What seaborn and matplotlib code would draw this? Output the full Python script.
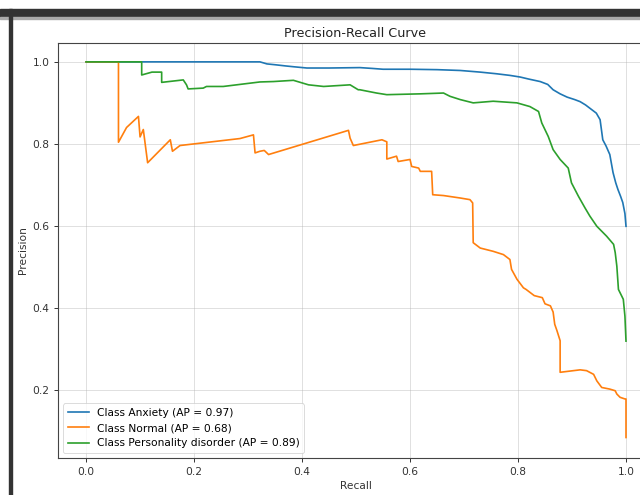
import matplotlib
matplotlib.use("Agg")
import matplotlib.pyplot as plt
import seaborn as sns
import pandas as pd
from matplotlib.patches import Rectangle

# ---- data (recall, precision vertices) ----
anxiety_recall = [0.0, 0.322, 0.335, 0.35, 0.37, 0.385, 0.409, 0.45, 0.507, 0.53, 0.55,
                  0.60, 0.65, 0.693, 0.73, 0.76, 0.785, 0.804, 0.82, 0.841, 0.855,
                  0.865, 0.878, 0.891, 0.905, 0.915, 0.925, 0.933, 0.945, 0.952,
                  0.957, 0.963, 0.970, 0.976, 0.981, 0.985, 0.990, 0.994, 0.998, 1.0]
anxiety_precision = [1.0, 1.0, 0.995, 0.993, 0.99, 0.988, 0.985, 0.985, 0.986, 0.984, 0.982,
                     0.982, 0.981, 0.979, 0.975, 0.971, 0.967, 0.963, 0.958, 0.952, 0.945,
                     0.932, 0.922, 0.914, 0.908, 0.903, 0.895, 0.887, 0.875, 0.859,
                     0.810, 0.795, 0.774, 0.730, 0.705, 0.689, 0.672, 0.657, 0.630, 0.599]

normal_recall = [0.0, 0.060, 0.060, 0.075, 0.097, 0.100, 0.106, 0.114, 0.156, 0.160,
                 0.174, 0.285, 0.310, 0.313, 0.322, 0.330, 0.338, 0.486, 0.489, 0.495,
                 0.548, 0.557, 0.557, 0.575, 0.578, 0.600, 0.603, 0.616, 0.619, 0.640,
                 0.642, 0.662, 0.693, 0.711, 0.716, 0.717, 0.730, 0.754, 0.773, 0.785,
                 0.788, 0.798, 0.810, 0.815, 0.830, 0.845, 0.850, 0.860, 0.865, 0.868,
                 0.872, 0.878, 0.878, 0.915, 0.927, 0.940, 0.946, 0.955, 0.970, 0.980,
                 0.983, 0.989, 0.998, 1.0, 1.0]
normal_precision = [1.0, 1.0, 0.804, 0.840, 0.867, 0.817, 0.835, 0.754, 0.810, 0.782,
                    0.796, 0.813, 0.822, 0.778, 0.782, 0.784, 0.774, 0.833, 0.814, 0.796,
                    0.810, 0.805, 0.763, 0.770, 0.757, 0.762, 0.745, 0.741, 0.733, 0.733,
                    0.676, 0.674, 0.668, 0.664, 0.656, 0.559, 0.546, 0.538, 0.530, 0.518,
                    0.494, 0.470, 0.449, 0.445, 0.430, 0.425, 0.410, 0.405, 0.390, 0.360,
                    0.345, 0.320, 0.243, 0.249, 0.247, 0.238, 0.222, 0.206, 0.202, 0.198,
                    0.190, 0.182, 0.178, 0.178, 0.084]

personality_recall = [0.0, 0.103, 0.103, 0.122, 0.140, 0.140, 0.180, 0.186, 0.189, 0.217,
                      0.223, 0.254, 0.322, 0.347, 0.384, 0.412, 0.440, 0.489, 0.504,
                      0.507, 0.538, 0.557, 0.619, 0.662, 0.674, 0.693, 0.717, 0.754,
                      0.798, 0.822, 0.838, 0.844, 0.856, 0.865, 0.878, 0.893, 0.899,
                      0.912, 0.924, 0.933, 0.946, 0.964, 0.977, 0.980, 0.983, 0.986,
                      0.995, 0.998, 1.0]
personality_precision = [1.0, 1.0, 0.968, 0.975, 0.975, 0.950, 0.956, 0.944, 0.934, 0.936,
                         0.940, 0.940, 0.951, 0.952, 0.955, 0.944, 0.940, 0.944, 0.932,
                         0.932, 0.924, 0.920, 0.922, 0.924, 0.916, 0.908, 0.900, 0.904,
                         0.900, 0.891, 0.879, 0.851, 0.818, 0.786, 0.762, 0.741, 0.705,
                         0.672, 0.644, 0.624, 0.599, 0.575, 0.555, 0.535, 0.502, 0.445,
                         0.421, 0.380, 0.319]

class_names = ["Anxiety", "Normal", "Personality disorder"]
ap_scores = [0.97, 0.68, 0.89]
recalls = [anxiety_recall, normal_recall, personality_recall]
precisions = [anxiety_precision, normal_precision, personality_precision]

colors = ["#1f77b4", "#ff7f0e", "#2ca02c"]

S = 0.768  # scale factor of the screenshot

fig = plt.figure(figsize=(6.4, 4.95), dpi=100)
ax = fig.add_axes([58 / 640, 37 / 495, (653 - 58) / 640, (458 - 43) / 495])

for name, ap, r, p, c in zip(class_names, ap_scores, recalls, precisions, colors):
    df = pd.DataFrame({"Recall": r, "Precision": p})
    sns.lineplot(data=df, x="Recall", y="Precision", sort=False, estimator=None,
                 ax=ax, color=c, linewidth=1.2,
                 label=f"Class {name} (AP = {ap:.2f})")

ax.set_xlim(-0.052, 1.05)
ax.set_ylim(0.034, 1.046)
ax.set_xticks([0.0, 0.2, 0.4, 0.6, 0.8, 1.0])
ax.set_yticks([0.2, 0.4, 0.6, 0.8, 1.0])
ax.grid(True, color="#b0b0b0", alpha=0.4, linewidth=0.7)
ax.tick_params(labelsize=10 * S, length=3.5 * S, width=0.7, colors="#333333",
               labelcolor="#333333")
for s in ax.spines.values():
    s.set_linewidth(0.8)
    s.set_color("#444444")
ax.set_xlabel("Recall", fontsize=10 * S, color="#333333", labelpad=4 * S)
ax.set_ylabel("Precision", fontsize=10 * S, color="#333333", labelpad=4 * S)
ax.set_title("Precision-Recall Curve", fontsize=12 * S, color="#222222", pad=6 * S)
leg = ax.legend(loc="lower left", fontsize=10 * S, frameon=True)
leg.get_frame().set_linewidth(0.6)

# screenshot frame elements
fig.patches.append(Rectangle((0, (495 - 17) / 495), 1, 8 / 495, transform=fig.transFigure,
                             color="#333333", zorder=10))
fig.patches.append(Rectangle((0, (495 - 18.5) / 495), 1, 1.5 / 495, transform=fig.transFigure,
                             color="#aaaaaa", zorder=10))
fig.patches.append(Rectangle((9 / 640, 0), 3 / 640, (495 - 9) / 495, transform=fig.transFigure,
                             color="#333333", zorder=10))

fig.savefig("out.png", dpi=100)
